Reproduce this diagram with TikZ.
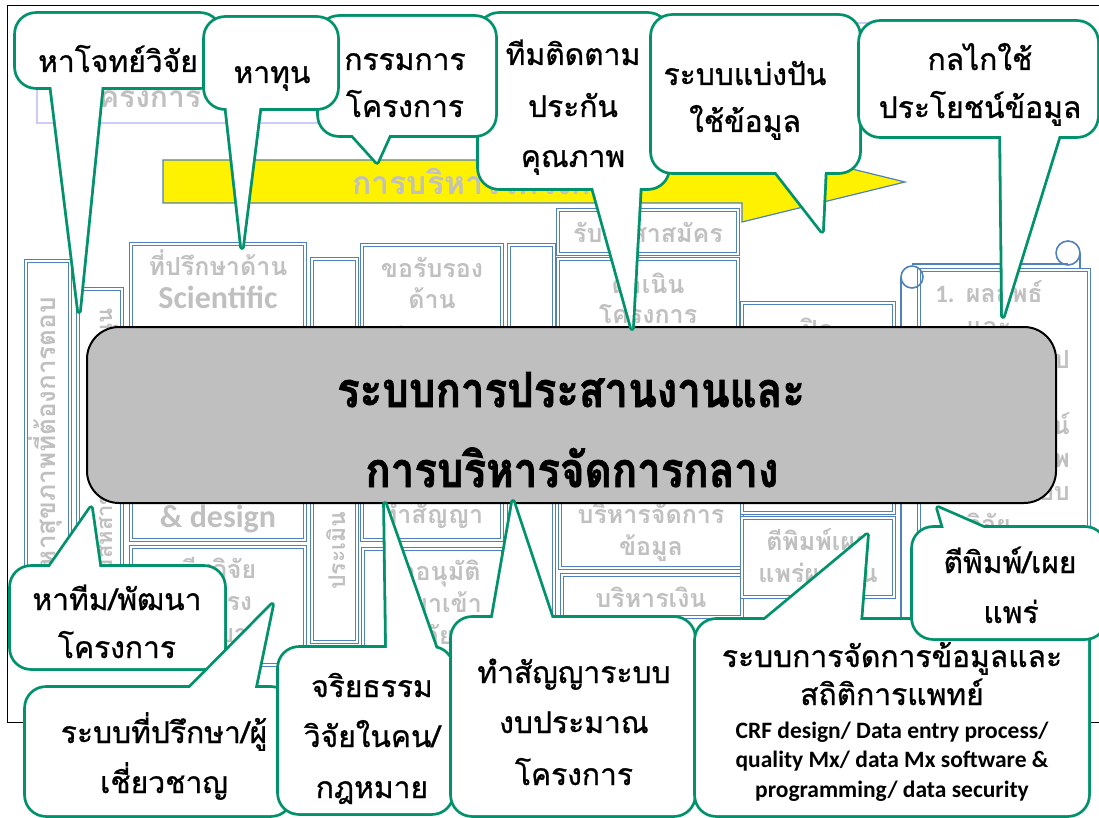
\documentclass[tikz,border=0pt]{standalone}
\usepackage{fontspec}
\setmainfont{Carlito}
\newfontfamily\thai[Script=Thai]{Loma}
\newfontfamily\thaicall[Script=Thai, FakeBold=0.9]{Loma}
\newfontfamily\thaihub[Script=Thai, BoldFeatures={FakeBold=1.6}]{Loma}

\definecolor{callgreen}{RGB}{0,146,106}
\definecolor{boxblue}{RGB}{79,129,189}
\definecolor{greytext}{RGB}{192,192,192}
\definecolor{hubgray}{RGB}{191,191,191}
\definecolor{lavend}{RGB}{204,204,250}

% speech bubble: corner, corner, tail path
\newcommand{\bubble}[3]{%
  \draw[bubble, rounded corners=20pt] (#1) rectangle (#2);
  \draw[bubble] #3 -- cycle;
  \fill[white, rounded corners=20pt] (#1) rectangle (#2);
  \fill[white] #3 -- cycle;}

\begin{document}
\begin{tikzpicture}[x=1pt, y=-1pt,
    bgbox/.style={draw=boxblue, double=white, double distance=1.3pt, line width=1pt, fill=white},
    bubble/.style={draw=callgreen, line width=5.6pt, line join=round},
    ctext/.style={font=\thaicall\fontsize{30}{36}\selectfont, anchor=base, inner sep=0pt},
    gtext/.style={font=\thai\bfseries\fontsize{25}{28}\selectfont, text=greytext, anchor=base, inner sep=0pt},
    glat/.style={font=\bfseries\fontsize{32}{36}\selectfont, text=greytext, anchor=base, inner sep=0pt},
    ktext/.style={font=\bfseries\fontsize{23.5}{29}\selectfont, anchor=base, inner sep=0pt},
    hubtext/.style={font=\thaihub\bfseries\fontsize{42}{50}\selectfont, anchor=base, inner sep=0pt,
        yscale=1.15, transform shape}]

    \useasboundingbox (0,0) rectangle (1099,818);
    \clip (0,0) rectangle (1099,818);
    \fill[white] (0,0) rectangle (1099,818);
    \draw[line width=1pt] (1099,6) -- (7,6) -- (7,722) -- (1099,722);

    % slide background
    \draw[lavend, line width=1.5pt] (37,23) rectangle (880,123);
    \node[gtext, font=\thai\bfseries\fontsize{30}{36}\selectfont] (projtitle) at (142,108) {โครงการ};

    \draw[fill=yellow, draw=boxblue, line width=1.2pt] (163,160) -- (742,160) -- (742,142) -- (905,182)
        -- (742,222) -- (742,203) -- (163,203) -- cycle;
    \node[gtext, font=\thai\bfseries\fontsize{32}{36}\selectfont, anchor=base west] (mgmt) at (352,195) {การบริหารโครงการ};

    \draw[bgbox] (26,261) rectangle (70,660);
    \node[gtext, font=\thai\bfseries\fontsize{26}{30}\selectfont, rotate=90, anchor=base east] (health) at (55,297) {ปัญหาสุขภาพที่ต้องการตอบ};
    \draw[bgbox] (78,289) rectangle (122,640);
    \node[gtext, font=\thai\bfseries\fontsize{22}{26}\selectfont, rotate=90, anchor=base east] (multi) at (112,308) {ทีมสหสาขาวิชาชีพที่สนับสนุน};

    \draw[bgbox] (131,244) rectangle (305,540);
    \node[gtext] (adv1) at (218,275) {ที่ปรึกษาด้าน};
    \node[glat] (adv2) at (218,308) {Scientific};
    \node[glat] (adv3) at (218,527) {\& design};
    \draw[bgbox] (131,547) rectangle (305,665);
    \node[gtext] (team1) at (218,578) {ทีมวิจัย};
    \node[gtext] (team2) at (218,610) {ในโรง};
    \node[gtext] (team3) at (218,642) {พยาบาล};

    \draw[bgbox] (312,259) rectangle (357,642);
    \node[gtext, font=\thai\bfseries\fontsize{23}{26}\selectfont, rotate=90, anchor=base west] (feas) at (345,590) {ประเมิน {\rmfamily feasibility}};

    \draw[bgbox] (362,245) rectangle (502,540);
    \node[gtext] (cert1) at (432,277) {ขอรับรอง};
    \node[gtext] (cert2) at (432,308) {ด้าน};
    \node[gtext] (cert3) at (432,346) {จริยธรรม};
    \node[gtext] (cert4) at (432,523) {ทำสัญญา};
    \draw[bgbox] (363,549) rectangle (503,660);
    \node[gtext] (drug1) at (432,580) {ขออนุมัติ};
    \node[gtext] (drug2) at (432,612) {นำยาเข้า};
    \node[gtext] (drug3) at (432,644) {วิจัย};

    \draw[bgbox] (509,245) rectangle (554,617);

    \draw[bgbox] (558,210) rectangle (738,254);
    \node[gtext] (recruit) at (648,242) {รับอาสาสมัคร};
    \draw[bgbox] (558,259) rectangle (738,400);
    \node[gtext] (run1) at (648,293) {ดำเนิน};
    \node[gtext] (run2) at (648,323) {โครงการ};
    \draw[bgbox] (560,440) rectangle (742,568);
    \node[gtext] (dm1) at (651,523) {บริหารจัดการ};
    \node[gtext] (dm2) at (651,555) {ข้อมูล};
    \draw[bgbox] (562,575) rectangle (742,617);
    \node[gtext] (money) at (651,607) {บริหารเงิน};

    \draw[bgbox] (742,303) rectangle (894,513);
    \node[gtext] (close1) at (818,338) {ปิด};
    \node[gtext] (close2) at (818,370) {โครงการ};
    \draw[bgbox] (742,518) rectangle (894,597);
    \node[gtext] (pub1) at (818,550) {ตีพิมพ์เผย};
    \node[gtext] (pub2) at (818,582) {แพร่ผลงาน};

    % scroll
    \draw[boxblue, line width=1.6pt] (901,650) -- (901,277);
    \draw[boxblue, line width=1.6pt] (912,264) -- (1068,264);
    \draw[boxblue, line width=1.6pt] (1080,253) -- (1080,650);
    \draw[boxblue, line width=1.6pt] (1068,253) circle (12pt);
    \draw[bgbox] (919,270) rectangle (1089,650);
    \draw[boxblue, line width=1.6pt] (912,277) circle (11pt);
    \node[gtext] (out1) at (989,302) {{\rmfamily 1.} ผลลัพธ์};
    \node[gtext] (out2) at (989,335) {และ};
    \node[gtext, anchor=base east] (out3) at (1070,368) {การนำไป};
    \node[gtext, anchor=base east] (out5) at (1070,434) {ประโยชน์};
    \node[gtext, anchor=base east] (out6) at (1070,467) {ด้านสุขภาพ};
    \node[gtext, anchor=base east] (out7) at (1070,500) {ต่อระบบ};
    \node[gtext] (out8) at (989,533) {วิจัย};

    % central box
    \node[draw, line width=2pt, fill=hubgray, rounded corners=32pt, minimum width=969pt,
        minimum height=176pt, inner sep=0pt] (hub) at (571.5,415) {};
    \node[hubtext] (hub1) at (571,407) {ระบบการประสานงานและ};
    \node[hubtext] (hub2) at (572,487) {การบริหารจัดการกลาง};

    % callouts, top row
    \bubble{16,14}{220,87}{(51,84) -- (79,311) -- (102,84)}
    \node[ctext] (topic) at (118,72) {หาโจทย์วิจัย};

    \bubble{479,14}{668,188}{(592,184) -- (632,328) -- (640,184)}
    \node[ctext] (qa1) at (573,65) {ทีมติดตาม};
    \node[ctext] (qa2) at (573,117) {ประกัน};
    \node[ctext] (qa3) at (573,167) {คุณภาพ};

    \bubble{319,17}{495,135}{(349,131) -- (377,162) -- (391,131)}
    \node[ctext] (comm1) at (405,70) {กรรมการ};
    \node[ctext] (comm2) at (405,117) {โครงการ};

    \bubble{205,18}{337,108}{(226,104) -- (242,247) -- (260,104)}
    \node[ctext] (fund) at (272,83) {หาทุน};

    \bubble{652,16}{859,172}{(773,168) -- (822,231) -- (825,168)}
    \node[ctext] (share1) at (745,85) {ระบบแบ่งปัน};
    \node[ctext] (share2) at (745,132) {ใช้ข้อมูล};

    \bubble{860,22}{1097,136}{(1001,132) -- (1003,316) -- (1060,132)}
    \node[ctext] (use1) at (980,70) {กลไกใช้};
    \node[ctext] (use2) at (980,118) {ประโยชน์ข้อมูล};

    % callouts, bottom row
    \bubble{11,567}{224,668}{(47,571) -- (91,508) -- (100,571)}
    \node[ctext] (dev1) at (117,610) {หาทีม/พัฒนา};
    \node[ctext] (dev2) at (117,658) {โครงการ};

    \bubble{26,688}{291,815}{(186,692) -- (272,605) -- (254,692)}
    \node[ctext] (expert1) at (164,743) {ระบบที่ปรึกษา/ผู้};
    \node[ctext] (expert2) at (164,793) {เชี่ยวชาญ};

    \bubble{279,648}{452,813}{(387,652) -- (385,504) -- (437,652)}
    \node[ctext] (eth1) at (372,697) {จริยธรรม};
    \node[ctext] (eth2) at (372,747) {วิจัยในคน/};
    \node[ctext] (eth3) at (372,798) {กฎหมาย};

    \bubble{452,618}{694,815}{(492,622) -- (513,502) -- (553,622)}
    \node[ctext] (bud1) at (574,683) {ทำสัญญาระบบ};
    \node[ctext] (bud2) at (574,733) {งบประมาณ};
    \node[ctext] (bud3) at (574,785) {โครงการ};

    \bubble{696,620}{1088,815}{(760,624) -- (867,535) -- (860,624)}
    \node[ctext] (stat1) at (892,667) {ระบบการจัดการข้อมูลและ};
    \node[ctext] (stat2) at (892,705) {สถิติการแพทย์};
    \node[ktext] (crf1) at (892,738) {CRF design/ Data entry process/};
    \node[ktext] (crf2) at (892,767) {quality Mx/ data Mx software \&};
    \node[ktext] (crf3) at (892,797) {programming/ data security};

    \bubble{913,528}{1105,638}{(945,532) -- (938,508) -- (993,532)}
    \node[ctext] (print1) at (1010,573) {ตีพิมพ์/เผย};
    \node[ctext] (print2) at (1011,623) {แพร่};

\end{tikzpicture}
\end{document}
